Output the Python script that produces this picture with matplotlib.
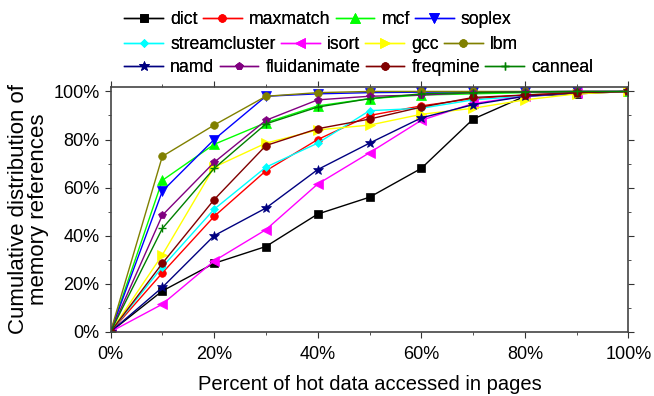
import numpy as np
import matplotlib
matplotlib.use('Agg')
import matplotlib.pyplot as plt
from matplotlib.ticker import MultipleLocator, FuncFormatter

plt.rcParams['font.family'] = ['Liberation Sans', 'DejaVu Sans']

x = [0, 10, 20, 30, 40, 50, 60, 70, 80, 90, 100]

dict_ = [0, 17, 28.5, 35.5, 49, 56, 68, 88.5, 98, 99, 100]
maxmatch = [0, 24.5, 48, 67, 80, 90, 94, 97, 98.5, 99.5, 100]
mcf = [0, 63, 78, 87, 94, 97, 98.5, 99, 99.5, 99.8, 100]
soplex = [0, 58.5, 80, 98, 99, 99.5, 99.7, 99.8, 99.9, 100, 100]
streamcluster = [0, 27, 51, 68.5, 78.5, 92, 93, 96.5, 98, 99.5, 100]
isort = [0, 11.5, 29.5, 42.5, 61.5, 74.5, 88, 95, 98, 99.5, 100]
gcc = [0, 32, 68.5, 78.5, 84, 86, 90.5, 93, 96.5, 99, 100]
lbm = [0, 73, 86, 98, 99.5, 100, 100, 100, 100, 100, 100]
namd = [0, 18.5, 40, 51.5, 67.5, 78.5, 89, 94.5, 98, 99.5, 100]
fluidanimate = [0, 48.5, 70.5, 88, 96.5, 98, 98.5, 99.5, 99.8, 100, 100]
freqmine = [0, 28.5, 55, 77.5, 84.5, 88.5, 93.5, 97.5, 98.5, 99.5, 100]
canneal = [0, 43, 68, 86.5, 93.5, 97, 99, 99.5, 99.8, 100, 100]

series = [
    ('dict', dict_, 'black', 's'),
    ('maxmatch', maxmatch, 'red', 'o'),
    ('mcf', mcf, '#00ff00', '^'),
    ('soplex', soplex, 'blue', 'v'),
    ('streamcluster', streamcluster, 'cyan', 'D'),
    ('isort', isort, 'magenta', '<'),
    ('gcc', gcc, 'yellow', '>'),
    ('lbm', lbm, '#808000', 'o'),
    ('namd', namd, '#000080', '*'),
    ('fluidanimate', fluidanimate, '#800080', 'p'),
    ('freqmine', freqmine, '#800000', 'o'),
    ('canneal', canneal, '#008000', '+'),
]

fig = plt.figure(figsize=(6.54, 3.96), dpi=100)
ax = fig.add_axes([0.169, 0.162, 0.792, 0.618])

handles = []
for name, vals, col, mk in series:
    ms = 5.5
    if mk == '*':
        ms = 7.5
    elif mk == 'D':
        ms = 4.5
    elif mk in ('<', '>', '^', 'v'):
        ms = 6.5
    h, = ax.plot(x, vals, color=col, marker=mk, markersize=ms, linewidth=1,
                 markeredgewidth=1 if mk == '+' else 0.5,
                 markeredgecolor=col, label=name)
    handles.append(h)

ax.set_xlim(0, 100)
ax.set_ylim(0, 101.8)
ax.xaxis.set_major_locator(MultipleLocator(20))
ax.xaxis.set_minor_locator(MultipleLocator(10))
ax.yaxis.set_major_locator(MultipleLocator(20))
ax.yaxis.set_minor_locator(MultipleLocator(10))
pct = FuncFormatter(lambda v, p: '%d%%' % v)
ax.xaxis.set_major_formatter(pct)
ax.yaxis.set_major_formatter(pct)
ax.tick_params(which='both', direction='out', labelsize=13, color='#333333',
               top=True, right=True)
ax.tick_params(which='major', length=4)
ax.tick_params(which='minor', length=2.5)
ax.tick_params(axis='x', which='major', pad=6)
ax.tick_params(axis='y', which='major', pad=4)
for s in ax.spines.values():
    s.set_color('#444444')
    s.set_linewidth(1.2)

ax.set_xlabel('Percent of hot data accessed in pages', fontsize=14.5, labelpad=9)
ax.set_ylabel('Cumulative distribution of\nmemory references', fontsize=16,
              labelpad=3, linespacing=0.92)

# legend: three flowing rows of four entries
row_y = [0.951, 0.888, 0.830]
for r in range(3):
    leg = fig.legend(handles[r * 4:(r + 1) * 4], [s[0] for s in series[r * 4:(r + 1) * 4]],
                     ncol=4, loc='center left', bbox_to_anchor=(0.19, row_y[r]),
                     frameon=False, fontsize=12.7, handlelength=2.2, handletextpad=0.4,
                     columnspacing=0.3, borderpad=0, borderaxespad=0)
    fig.add_artist(leg)

fig.savefig('out.png', dpi=100)
